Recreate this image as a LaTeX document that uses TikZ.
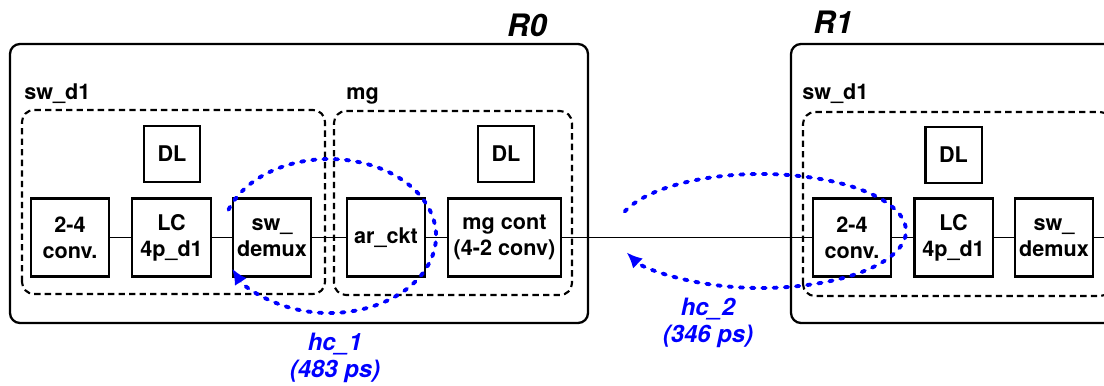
\documentclass[tikz,border=0pt]{standalone}
\usepackage{fontspec}
\setmainfont{TeX Gyre Heros}
\usetikzlibrary{arrows.meta}

\begin{document}
\begin{tikzpicture}[x=0.02cm, y=0.02cm,
        router/.style={draw=black, line width=1.3pt, rounded corners=0.2cm},
        group/.style={draw=black, line width=1.2pt, dash pattern=on 3.6pt off 2.4pt, rounded corners=0.24cm},
        blk/.style={draw=black, line width=1.4pt, inner sep=0pt, align=center,
            minimum width=1.57cm, minimum height=1.56cm,
            font=\bfseries\fontsize{12.3}{14.8}\selectfont},
        dl/.style={blk, minimum width=1.13cm, minimum height=1.12cm},
        glabel/.style={anchor=base west, inner sep=0pt, font=\bfseries\fontsize{12.3}{14.8}\selectfont},
        rlabel/.style={inner sep=0pt, font=\bfseries\itshape\fontsize{17.6}{20}\selectfont},
        link/.style={draw=black, line width=1.1pt},
        hop/.style={draw=blue, line width=2.2pt, line cap=round, dash pattern=on 1.9pt off 4.5pt,
            -{Latex[length=9pt, width=8pt]}},
        hclabel/.style={text=blue, align=center, inner sep=0pt,
            font=\bfseries\itshape\fontsize{13.6}{15.5}\selectfont}]
        \useasboundingbox (0,0) rectangle (1104,385);

        % routers
        \draw[router] (10,62) rectangle (588,341);
        \draw[router] (791,62) rectangle (1140,341);
        \node[rlabel] (r0) at (527,360) {R0};
        \node[rlabel] (r1) at (833,363) {R1};

        % dashed groups
        \draw[group] (22,91) rectangle (325,275);
        \draw[group] (334,90) rectangle (572,274);
        \draw[group] (803,89) rectangle (1112,273);
        \node[glabel] (swlabA) at (24,285) {sw\_d1};
        \node[glabel] (mglab) at (346,285) {mg};
        \node[glabel] (swlabB) at (802,285) {sw\_d1};

        % R0 blocks
        \node[dl] (dlA) at (172,231) {DL};
        \node[dl] (dlM) at (506,231) {DL};
        \node[blk] (convA) at (70,147.5) {2-4\\conv.};
        \node[blk] (lcA) at (171.5,147.5) {LC\\4p\_d1};
        \node[blk] (dmxA) at (272,147.5) {sw\_\\demux};
        \node[blk] (arckt) at (386,147.5) {ar\_ckt};
        \node[blk, minimum width=2.26cm] (mgc) at (504.5,147.5) {mg cont\\(4-2 conv)};

        % R1 blocks
        \node[dl] (dlB) at (953.5,230) {DL};
        \node[blk] (convB) at (852,147.5) {2-4\\conv.};
        \node[blk] (lcB) at (953.5,147.5) {LC\\4p\_d1};
        \node[blk] (dmxB) at (1054,147.5) {sw\_\\demux};
        \coordinate (rend) at (1104,147.5);

        \draw[link] (convA) -- (lcA);
        \draw[link] (lcA) -- (dmxA);
        \draw[link] (dmxA) -- (arckt);
        \draw[link] (arckt) -- (mgc);
        \draw[link] (mgc) -- (convB);
        \draw[link] (convB) -- (lcB);
        \draw[link] (lcB) -- (dmxB);
        \draw[link] (dmxB) -- (rend);

        % hops
        \draw[hop] (228.5,175.3) arc[start angle=160, end angle=-155, x radius=107, y radius=77];
        \draw[hop] (624.7,173.5) arc[start angle=160, end angle=-158, x radius=145, y radius=57];
        \node[hclabel] (hc1) at (335,27) {hc\_1\\(483 ps)};
        \node[hclabel] (hc2) at (708,62) {hc\_2\\(346 ps)};
\end{tikzpicture}
\end{document}
